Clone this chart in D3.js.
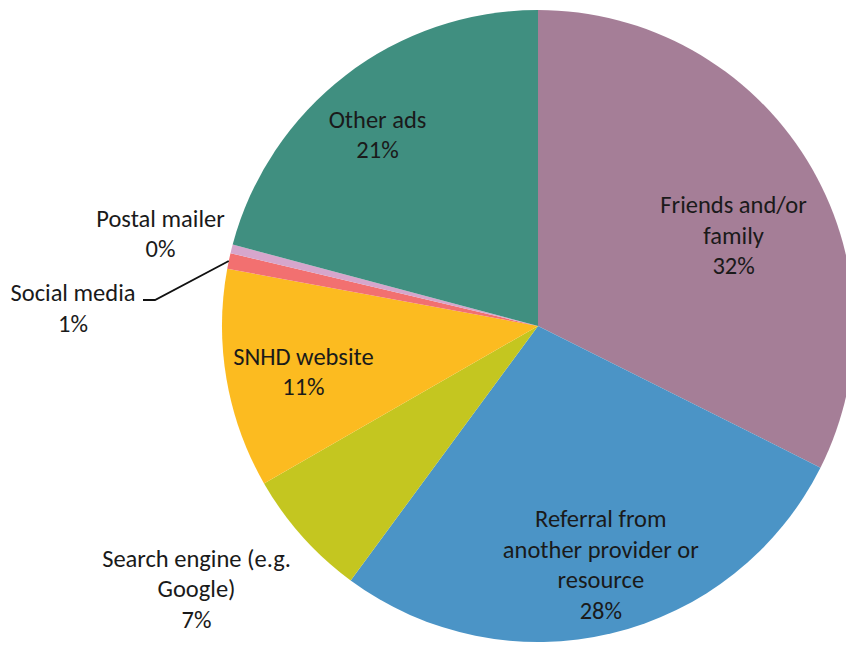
<!DOCTYPE html>
<html>
<head>
<meta charset="utf-8">
<script src="https://cdn.jsdelivr.net/npm/d3@7"></script>
<style>
    body { margin: 0; background: #fff; }
    svg text { font-family: Carlito, Calibri, Lato, sans-serif; fill: #1a1a1a; }
</style>
</head>
<body>
<div id="chart"></div>
<script>
// slices clockwise from 12 o'clock
var categories = ["Friends and/or\nfamily", "Referral from\nanother provider or\nresource", "Search engine (e.g.\nGoogle)", "SNHD website", "Social media", "Postal mailer", "Other ads"];
var values = [32.4, 27.7, 6.6, 11.2, 0.8, 0.45, 20.85];
var colors = ["#a57e97", "#4b94c6", "#c4c620", "#fcbb20", "#f27070", "#d6a6cc", "#408f80"];

function init_pie() {
    var width = 846, height = 645;
    var cx = 538, cy = 326, radius = 316;
    var font_size = 24.5, line_h = 30.5;

    var svg = d3.select("#chart").append("svg")
        .attr("width", width)
        .attr("height", height);

    var data = categories.map(function(c, i) {
        return {name: c, value: values[i], color: colors[i]};
    });
    var total = d3.sum(values);

    var pie = d3.pie()
        .sort(null)
        .value(function(d) { return d.value; });
    var arcs = pie(data);

    var arc = d3.arc().innerRadius(0).outerRadius(radius);

    var g = svg.append("g")
        .attr("transform", "translate(" + cx + "," + cy + ")");

    g.selectAll(".slice")
        .data(arcs)
        .enter()
        .append("path")
        .attr("class", "slice")
        .attr("d", arc)
        .attr("fill", function(d) { return d.data.color; });

    // inside labels: fraction of radius at slice mid angle, then a nudge
    var label_cfg = [
        {r: 0.68, dx: 12.7, dy: 22},
        {r: 0.77, dx: 6, dy: 2},
        null,
        {r: 0.75, dx: -1, dy: 5.5},
        null,
        null,
        {r: 0.8, dx: -6.5, dy: 9}
    ];

    // outside label anchors (relative to centre) for the thin slices
    var outside = {
        2: [-341.5, 262.5],
        4: [-465, -18],
        5: [-377.5, -92.5]
    };

    var labels = g.selectAll(".label")
        .data(arcs)
        .enter()
        .append("text")
        .attr("class", "label")
        .attr("text-anchor", "middle")
        .attr("font-size", font_size)
        .attr("transform", function(d, i) {
            var p;
            if (outside[i]) {
                p = outside[i];
            } else {
                var a = (d.startAngle + d.endAngle) / 2;
                var rr = radius * label_cfg[i].r;
                p = [Math.sin(a) * rr + label_cfg[i].dx, -Math.cos(a) * rr + label_cfg[i].dy];
            }
            return "translate(" + p[0] + "," + p[1] + ")";
        });

    labels.each(function(d) {
        var lines = d.data.name.split("\n");
        lines.push(Math.round(d.data.value / total * 100) + "%");
        var t = d3.select(this);
        var y0 = -(lines.length - 1) * line_h / 2;
        lines.forEach(function(l, j) {
            t.append("tspan")
                .attr("x", 0)
                .attr("y", y0 + j * line_h)
                .attr("dy", "0.35em")
                .text(l);
        });
    });

    // leader line for "Social media"
    var social = arcs[4];
    var sa = (social.startAngle + social.endAngle) / 2;
    var edge = [Math.sin(sa) * radius, -Math.cos(sa) * radius];
    var lab = outside[4];
    g.append("polyline")
        .attr("points", [
            [lab[0] + 70, lab[1] - 8],
            [lab[0] + 82, lab[1] - 8],
            edge
        ].map(function(p) { return p.join(","); }).join(" "))
        .attr("fill", "none")
        .attr("stroke", "#111")
        .attr("stroke-width", 1.8);
}

init_pie();
</script>
</body>
</html>
